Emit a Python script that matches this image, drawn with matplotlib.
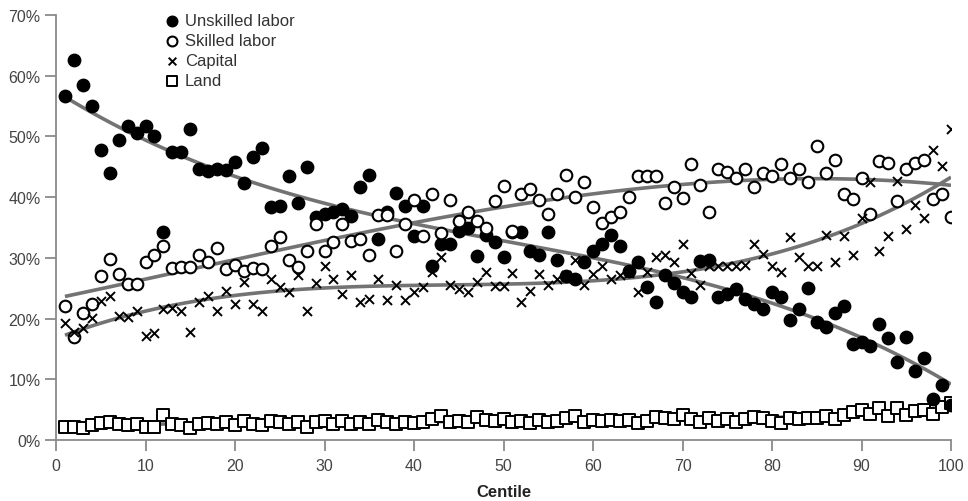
import matplotlib
matplotlib.use("Agg")
import matplotlib.pyplot as plt
import numpy as np

plt.rcParams['font.family'] = ['Liberation Sans', 'DejaVu Sans']

centile = np.arange(1, 101)

unskilled = [56.7, 62.6, 58.5, 55.0, 47.7, 44.0, 49.4, 51.8, 50.6, 51.8,
             50.0, 34.3, 47.4, 47.4, 51.2, 44.6, 44.3, 44.6, 44.4, 45.8,
             42.4, 46.6, 48.1, 38.3, 38.6, 43.5, 39.0, 45.0, 36.8, 37.2,
             37.5, 38.0, 36.9, 41.6, 43.6, 33.1, 37.5, 40.7, 38.6, 33.6,
             38.6, 28.7, 32.3, 32.3, 34.5, 35.0, 30.3, 33.7, 32.6, 30.1,
             34.3, 34.2, 31.2, 30.5, 34.2, 29.7, 27.0, 26.5, 29.3, 31.2,
             32.3, 33.8, 32.0, 27.9, 29.4, 25.2, 22.8, 27.1, 25.9, 24.3,
             23.5, 29.5, 29.7, 23.5, 24.0, 24.9, 23.2, 22.4, 21.6, 24.3,
             23.5, 19.7, 21.6, 25.0, 19.4, 18.6, 21.0, 22.1, 15.8, 16.1,
             15.5, 19.1, 16.8, 12.8, 16.9, 11.3, 13.5, 6.8, 9.1, 5.7]

skilled = [22.0, 16.9, 20.9, 22.4, 27.0, 29.8, 27.3, 25.7, 25.7, 29.3,
           30.4, 31.9, 28.4, 28.5, 28.5, 30.5, 29.3, 31.6, 28.2, 28.8,
           27.9, 28.4, 28.2, 32.0, 33.4, 29.7, 28.5, 31.2, 35.6, 31.2,
           32.6, 35.6, 32.7, 33.1, 30.5, 37.1, 37.1, 31.2, 35.6, 39.5,
           33.6, 40.6, 34.1, 39.5, 36.0, 37.6, 36.0, 35.0, 39.4, 41.8,
           34.5, 40.5, 41.4, 39.5, 37.2, 40.5, 43.7, 40.1, 42.5, 38.3,
           35.7, 36.7, 37.5, 40.1, 43.5, 43.5, 43.5, 39.0, 41.6, 39.8,
           45.5, 42.0, 37.6, 44.6, 44.2, 43.1, 44.6, 41.6, 43.9, 43.5,
           45.5, 43.1, 44.6, 42.5, 48.5, 43.9, 46.2, 40.5, 39.7, 43.1,
           37.2, 46.0, 45.7, 39.4, 44.6, 45.6, 46.2, 39.7, 40.5, 36.8]

capital = [19.3, 17.8, 18.4, 20.1, 22.9, 23.7, 20.5, 20.2, 21.3, 17.2,
           17.6, 21.5, 21.7, 21.3, 17.8, 22.7, 23.7, 21.3, 24.6, 22.4,
           26.1, 22.4, 21.3, 26.5, 25.2, 24.3, 27.1, 21.3, 25.8, 28.6,
           26.5, 24.1, 27.1, 22.8, 23.2, 26.5, 23.1, 25.5, 23.1, 24.3,
           25.2, 27.7, 30.1, 25.5, 24.8, 24.4, 26.0, 27.6, 25.4, 25.4,
           27.5, 22.8, 24.6, 27.3, 25.5, 26.5, 27.1, 29.7, 25.5, 27.3,
           28.6, 26.5, 27.2, 27.5, 24.4, 27.6, 30.1, 30.4, 29.3, 32.3,
           27.5, 25.5, 28.7, 28.6, 28.6, 28.6, 28.8, 32.3, 30.6, 28.7,
           27.6, 33.4, 30.1, 28.7, 28.7, 33.8, 29.3, 33.6, 30.5, 36.5,
           42.5, 31.2, 33.6, 42.7, 34.7, 38.7, 36.5, 47.7, 45.1, 51.3]

land = [2.2, 2.1, 2.0, 2.5, 2.8, 2.9, 2.6, 2.5, 2.6, 2.2,
        2.1, 4.1, 2.6, 2.4, 2.0, 2.6, 2.8, 2.6, 2.9, 2.4,
        3.1, 2.6, 2.5, 3.1, 2.9, 2.7, 3.0, 2.1, 3.0, 3.1,
        2.7, 3.1, 2.7, 3.0, 2.7, 3.3, 3.0, 2.7, 2.9, 2.8,
        3.0, 3.4, 3.9, 2.9, 3.1, 2.9, 3.8, 3.3, 3.1, 3.4,
        3.0, 3.2, 2.8, 3.3, 3.0, 3.2, 3.6, 3.9, 2.9, 3.3,
        3.2, 3.3, 3.1, 3.3, 2.8, 3.2, 3.8, 3.7, 3.5, 4.1,
        3.4, 3.0, 3.6, 3.1, 3.4, 3.0, 3.5, 3.8, 3.6, 3.2,
        2.8, 3.6, 3.5, 3.6, 3.6, 3.9, 3.5, 4.2, 4.6, 4.9,
        4.3, 5.3, 3.9, 5.2, 4.2, 4.8, 5.0, 4.3, 5.4, 6.1]

xticks = [0, 10, 20, 30, 40, 50, 60, 70, 80, 90, 100]
yticks = [0, 10, 20, 30, 40, 50, 60, 70]

fig = plt.figure(figsize=(9.68, 5.02), dpi=100)
ax = fig.add_axes([56/968, 1-441/502, (951-56)/968, (441-16)/502])

axis_col = '#8a8a8a'
line_col = '#737373'

# fitted trend lines (cubic), drawn under the markers
for ys in (unskilled, skilled, capital, land):
    coef = np.polyfit(centile, ys, 3)
    ax.plot(centile, np.polyval(coef, centile), color=line_col, lw=2.6, zorder=1,
            solid_capstyle='butt')

ax.scatter(centile, unskilled, s=80, c='black', marker='o', zorder=3,
           label='Unskilled labor')
ax.scatter(centile, skilled, s=70, facecolors='white', edgecolors='black',
           linewidths=1.5, marker='o', zorder=4, label='Skilled labor')
ax.scatter(centile, capital, s=42, c='black', marker='x', linewidths=1.4,
           zorder=4, label='Capital')
ax.scatter(centile, land, s=66, facecolors='white', edgecolors='black',
           linewidths=1.4, marker='s', zorder=2, label='Land')

ax.set_xlim(0, 100)
ax.set_ylim(0, 70)
ax.set_xticks(xticks)
ax.set_yticks(yticks)
ax.set_yticklabels([f'{v}%' for v in yticks])

for s in ('top', 'right'):
    ax.spines[s].set_visible(False)
for s in ('left', 'bottom'):
    ax.spines[s].set_color(axis_col)
    ax.spines[s].set_linewidth(1.3)
ax.tick_params(axis='both', colors=axis_col, width=1.3, length=8,
               labelsize=11.5, labelcolor='#444444')
ax.tick_params(axis='x', pad=5)
ax.tick_params(axis='y', pad=3)

ax.set_xlabel('Centile', fontsize=12, fontweight='bold', color='#222222',
              labelpad=8)

leg = ax.legend(loc='upper left', bbox_to_anchor=(154/968, 1-6/502),
                bbox_transform=fig.transFigure, frameon=False, fontsize=12,
                handletextpad=0.15, labelspacing=0.3, borderpad=0,
                handlelength=1.2, scatterpoints=1, markerscale=0.85)
for t in leg.get_texts():
    t.set_color('#333333')

fig.savefig('out.png', dpi=100)
